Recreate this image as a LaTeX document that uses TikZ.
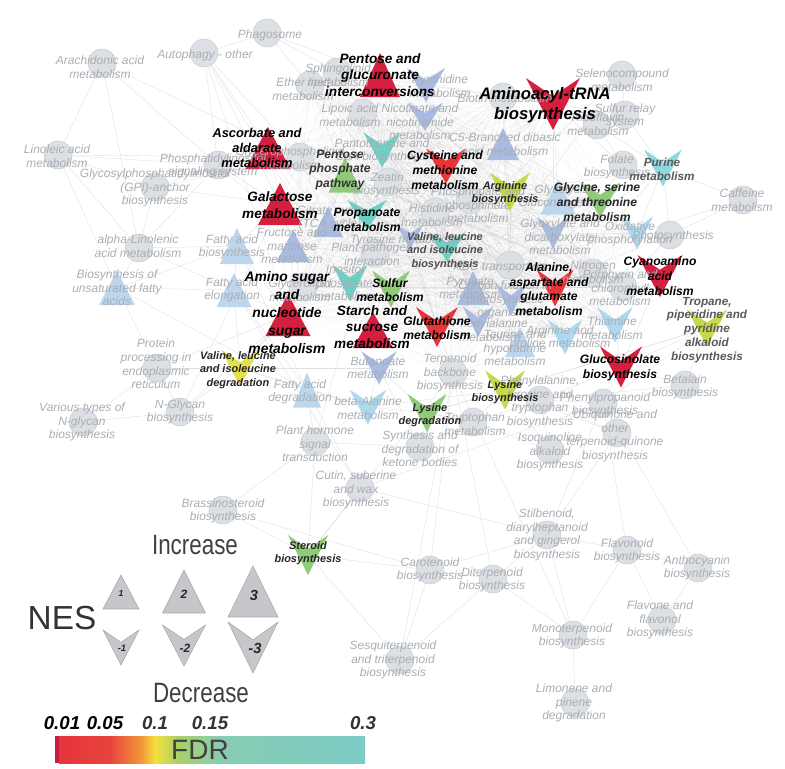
\documentclass[tikz,border=0pt]{standalone}
\usepackage{fontspec}
\setmainfont{Liberation Sans}
\newfontfamily\legfont[FakeStretch=0.8]{Liberation Sans}
\usepackage{tikz}

\definecolor{pwfill}{HTML}{DCDFE3}
\definecolor{pwline}{HTML}{C9CDD1}
\definecolor{txtgray}{HTML}{AAAEB3}
\definecolor{redA}{HTML}{D41F3F}
\definecolor{redB}{HTML}{E8353A}
\definecolor{grn}{HTML}{8FCB78}
\definecolor{ygrn}{HTML}{C5D94A}
\definecolor{yel}{HTML}{E3E04C}
\definecolor{teal}{HTML}{6ECFC5}
\definecolor{cyanp}{HTML}{8FD8E0}
\definecolor{blueA}{HTML}{A9BBE0}
\definecolor{blueB}{HTML}{AED8F0}
\definecolor{blueL}{HTML}{BCD6EE}
\definecolor{legg}{HTML}{C5C7CA}
\definecolor{leggd}{HTML}{A5A7AA}
\definecolor{fdrA}{HTML}{C81D3B}
\definecolor{fdrB}{HTML}{E5343E}
\definecolor{fdrC}{HTML}{E8443C}
\definecolor{fdrD}{HTML}{F39A3A}
\definecolor{fdrE}{HTML}{F4E03C}
\definecolor{fdrF}{HTML}{A9CF68}
\definecolor{fdrG}{HTML}{88CDB2}
\definecolor{fdrH}{HTML}{7CCBC6}

\pgfdeclarelayer{bg}
\pgfsetlayers{bg,main}

% up triangle: name, width, height, style
\newcommand\uptri[4]{\fill[#4] (#1) ++(0,-#3/2) -- ++(#2/2,#3) -- ++(-#2,0) -- cycle;}
% down arrowhead: name, width, height, style
\newcommand\downv[4]{\fill[#4] (#1) ++(-#2/2,-#3/2) -- ++(#2/2,0.35*#3) -- ++(#2/2,-0.35*#3) -- ++(-#2/2,#3) -- cycle;}

\def\corelist{pentgl,sphingo,ether,pyrim,nicot,lipoic,biotin,aminoac,c5br,pantoth,pentph,zeatin,cystein,argbio,glyser,glycol,glyox,propan,tca,fructo,galact,ascorb,glyphl,tyros,plpath,valbio,histid,phosph,abc,alan,nitro,porph,inosit,sulfur,starch,glutat,pyruv,carbfix,phealn,taur,argpro,thiam,aminos,glycl,oxphos,terpb}

\begin{document}
\begin{tikzpicture}[x=0.75pt,y=0.75pt,yscale=-1,xscale=1,
  pwnode/.style={fill=pwfill, draw=pwline, line width=0.4pt},
  medge/.style={draw=black!55, line width=0.2pt, opacity=0.1},
  pedge/.style={draw=black!12, line width=0.3pt},
  gtxt/.style={font=\itshape\fontsize{9}{10.2}\selectfont, text=txtgray, align=center, inner sep=0pt},
  dtxt/.style={font=\bfseries\itshape\fontsize{8.8}{10.4}\selectfont, text=black!65, align=center, inner sep=0pt},
  sigXL/.style={font=\bfseries\itshape\fontsize{12.5}{15}\selectfont, text=black, align=center, inner sep=0pt},
  sigL/.style={font=\bfseries\itshape\fontsize{10.2}{12.5}\selectfont, text=black, align=center, inner sep=0pt},
  sigM/.style={font=\bfseries\itshape\fontsize{9.1}{11}\selectfont, text=black, align=center, inner sep=0pt},
  sigS/.style={font=\bfseries\itshape\fontsize{8.2}{10}\selectfont, text=black!85, align=center, inner sep=0pt},
  legtri/.style={fill=legg, draw=leggd, line width=0.4pt},
  legnum/.style={font=\bfseries\itshape, text=black!85, inner sep=0pt},
  legword/.style={font=\legfont\fontsize{21}{24}\selectfont, text=black!75, inner sep=0pt},
  fdrnum/.style={font=\bfseries\itshape\fontsize{14}{16}\selectfont, text=black!80, inner sep=0pt}]
\useasboundingbox (0,0) rectangle (785,768);

%Shape: Circles [gray pathways]
\foreach \n/\x/\y in {phago/267/33, autoph/204/53, arach/102/63, linol/58/155, pisig/218/165,
  gpi/155/187, alin/139/248, protp/157/368, vnglyc/83/422, nglyc/180/412, brass/223/510,
  sphingo/337/72, ether/310/85, biotin/503/97, lipoic/363/113, selen/622/75, sulrel/625/115,
  ribo/597/125, glyphl/300/157, zeatin/388/182, histid/435/212, phosph/470/200, plpath/375/253,
  abc/510/265, glycl/303/287, nitro/593/273, porph/623/287, terpb/453/373, trypm/473/422,
  ketone/420/447, planth/315/442, cutin/360/488, phetyr/540/400, isoq/550/450, phenylp/603/403,
  ubiq/617/433, betal/685/385, folate/623/165, caff/743/200, photos/670/235, stilb/547/535,
  flavo/627/550, antho/698/568, carot/430/570, diterp/493/579, flavon/662/620, monot/573/635,
  limon/575/703, sesq/400/660}
  {\coordinate (\n) at (\x,\y);
   \draw[pwnode] (\n) circle (14);}

%Shape: Triangles [increase]
\coordinate (ascorb) at (268,148); \uptri{ascorb}{45}{42}{redA}
\coordinate (galact) at (280,204); \uptri{galact}{44}{42}{redA}
\coordinate (aminos) at (288,315); \uptri{aminos}{45}{42}{redA}
\coordinate (starch) at (373,330); \uptri{starch}{40}{36}{redA}
\coordinate (pentgl) at (380,75); \uptri{pentgl}{40}{44}{redA}
\coordinate (pentph) at (345,175); \uptri{pentph}{33}{35}{grn}
\coordinate (fructo) at (293,246); \uptri{fructo}{33}{32}{blueA}
\coordinate (tca) at (328,222); \uptri{tca}{30}{30}{blueA}
\coordinate (fabio) at (237,246); \uptri{fabio}{34}{36}{blueL}
\coordinate (fael) at (234,290); \uptri{fael}{35}{34}{blueL}
\coordinate (unsat) at (117,288); \uptri{unsat}{36}{34}{blueL}
\coordinate (fadeg) at (307,390); \uptri{fadeg}{28}{35}{blueL}
\coordinate (c5br) at (503,144); \uptri{c5br}{32}{32}{blueA}
\coordinate (glycol) at (558,197); \uptri{glycol}{35}{35}{blueL}
\coordinate (pyruv) at (473,288); \uptri{pyruv}{32}{34}{blueA}
\coordinate (taur) at (520,342); \uptri{taur}{30}{30}{blueL}

%Shape: Arrowheads [decrease]
\coordinate (aminoac) at (553,104); \downv{aminoac}{54}{52}{redA}
\coordinate (cystein) at (446,166); \downv{cystein}{40}{35}{redB}
\coordinate (glutat) at (437,327); \downv{glutat}{42}{40}{redB}
\coordinate (alan) at (555,288); \downv{alan}{37}{37}{redB}
\coordinate (cyano) at (660,276); \downv{cyano}{45}{42}{redA}
\coordinate (glucos) at (621,367); \downv{glucos}{42}{41}{redA}
\coordinate (sulfur) at (391,289); \downv{sulfur}{38}{37}{grn}
\coordinate (lysdeg) at (427,413); \downv{lysdeg}{39}{38}{grn}
\coordinate (lysbio) at (505,390); \downv{lysbio}{40}{39}{ygrn}
\coordinate (argbio) at (510,192); \downv{argbio}{40}{39}{ygrn}
\coordinate (glyser) at (600,200); \downv{glyser}{40}{35}{grn}
\coordinate (tropane) at (707,328); \downv{tropane}{40}{37}{ygrn}
\coordinate (valdeg) at (240,368); \downv{valdeg}{38}{37}{yel}
\coordinate (steroid) at (308,555); \downv{steroid}{40}{40}{grn}
\coordinate (pantoth) at (382,150); \downv{pantoth}{37}{35}{teal}
\coordinate (propan) at (367,215); \downv{propan}{39}{30}{teal}
\coordinate (valbio) at (447,247); \downv{valbio}{37}{30}{teal}
\coordinate (inosit) at (350,283); \downv{inosit}{35}{37}{teal}
\coordinate (purine) at (663,168); \downv{purine}{38}{37}{cyanp}
\coordinate (pyrim) at (426,85); \downv{pyrim}{38}{34}{blueA}
\coordinate (nicot) at (425,117); \downv{nicot}{35}{28}{blueA}
\coordinate (tyros) at (410,237); \downv{tyros}{27}{25}{blueA}
\coordinate (glyox) at (553,233); \downv{glyox}{32}{32}{blueA}
\coordinate (carbfix) at (511,300); \downv{carbfix}{30}{32}{blueA}
\coordinate (phealn) at (478,322); \downv{phealn}{30}{31}{blueA}
\coordinate (butan) at (379,368); \downv{butan}{35}{33}{blueA}
\coordinate (balan) at (368,407); \downv{balan}{37}{35}{blueB}
\coordinate (thiam) at (615,325); \downv{thiam}{35}{35}{blueB}
\coordinate (argpro) at (565,337); \downv{argpro}{35}{35}{blueB}
\coordinate (oxphos) at (637,233); \downv{oxphos}{32}{33}{blueB}

%Straight Lines [network edges]
\begin{pgfonlayer}{bg}
\foreach \a [count=\i] in \corelist {
  \foreach \b [count=\j] in \corelist {
    \ifnum\j>\i \draw[medge] (\a) -- (\b); \fi
  }
}
\foreach \a/\b in {arach/linol, arach/pisig, arach/alin, arach/glyphl, linol/alin, linol/gpi,
  linol/unsat, linol/pisig, linol/glyphl, alin/unsat, alin/gpi, alin/fabio, alin/fael, alin/pisig,
  gpi/pisig, gpi/glyphl, gpi/galact, autoph/phago, autoph/pisig, autoph/ascorb, autoph/glyphl,
  autoph/galact, autoph/starch, autoph/aminos, phago/sphingo, phago/ether, phago/pentgl,
  pisig/inosit, pisig/glyphl, pisig/galact, pisig/ascorb, unsat/fael, unsat/fabio, unsat/protp,
  unsat/fadeg, fabio/fael, fabio/fadeg, fabio/aminos, fabio/galact, fael/fadeg, fael/aminos,
  fael/valdeg, protp/nglyc, protp/vnglyc, protp/aminos, protp/valdeg, vnglyc/nglyc, nglyc/aminos,
  nglyc/valdeg, nglyc/galact, valdeg/aminos, valdeg/fadeg, valdeg/propan, valdeg/butan,
  valdeg/balan, brass/steroid, brass/planth, brass/carot, steroid/sesq, steroid/terpb,
  steroid/carot, steroid/cutin, steroid/planth, carot/diterp, carot/terpb, carot/sesq, carot/stilb,
  diterp/terpb, diterp/monot, diterp/stilb, monot/limon, monot/terpb, monot/stilb, monot/flavo,
  sesq/terpb, sesq/diterp, stilb/flavo, stilb/phenylp, stilb/cutin, stilb/ubiq, flavo/antho,
  flavo/flavon, flavo/phenylp, antho/flavon, antho/phenylp, caff/purine, caff/photos, caff/oxphos,
  selen/sulrel, selen/aminoac, selen/cystein, selen/sulfur, selen/glutat, sulrel/aminoac,
  sulrel/cystein, sulrel/ribo, sulrel/purine, ribo/folate, ribo/purine, folate/purine,
  folate/glyser, folate/aminoac, photos/oxphos, photos/purine, photos/porph, photos/carbfix,
  purine/glyser, purine/oxphos, purine/argbio, purine/alan, purine/glutat, tropane/cyano,
  tropane/glucos, tropane/betal, tropane/lysbio, tropane/lysdeg, tropane/phenylp, betal/phenylp,
  betal/phetyr, betal/glucos, cyano/glucos, cyano/porph, cyano/thiam, cyano/nitro, cyano/alan,
  glucos/thiam, glucos/argpro, glucos/phetyr, glucos/phenylp, ubiq/phenylp, ubiq/phetyr,
  ubiq/terpb, isoq/phetyr, isoq/trypm, isoq/lysbio, phetyr/lysbio, phetyr/trypm, phetyr/phenylp,
  trypm/lysbio, trypm/lysdeg, ketone/butan, ketone/terpb, ketone/lysdeg, ketone/planth,
  planth/zeatin, planth/balan, planth/fadeg, cutin/fadeg, cutin/fael, cutin/phenylp,
  lysdeg/butan, lysdeg/balan, lysdeg/lysbio, lysdeg/trypm, balan/butan, balan/fadeg, balan/lysbio}
  {\draw[pedge] (\a) -- (\b);}
\end{pgfonlayer}

% Text Node [gray pathways]
\node[gtxt] (phago-t) at (270,35) {Phagosome};
\node[gtxt] (autoph-t) at (205,55) {Autophagy - other};
\node[gtxt] (arach-t) at (100,67) {Arachidonic acid\\metabolism};
\node[gtxt] (linol-t) at (57,156) {Linoleic acid\\metabolism};
\node[gtxt] (pisig-t) at (213,166) {Phosphatidylinositol\\signaling system};
\node[gtxt] (gpi-t) at (155,188) {Glycosylphosphatidylinositol\\(GPI)-anchor\\biosynthesis};
\node[gtxt] (alin-t) at (138,246) {alpha-Linolenic\\acid metabolism};
\node[gtxt] (protp-t) at (156,364) {Protein\\processing in\\endoplasmic\\reticulum};
\node[gtxt] (vnglyc-t) at (82,422) {Various types of\\N-glycan\\biosynthesis};
\node[gtxt] (nglyc-t) at (180,412) {N-Glycan\\biosynthesis};
\node[gtxt] (brass-t) at (223,511) {Brassinosteroid\\biosynthesis};
\node[gtxt] (sphingo-t) at (338,75) {Sphingolipid\\metabolism};
\node[gtxt] (ether-t) at (303,89) {Ether lipid\\metabolism};
\node[gtxt] (biotin-t) at (505,98) {Biotin metabolism};
\node[gtxt] (lipoic-t) at (350,115) {Lipoic acid\\metabolism};
\node[gtxt] (selen-t) at (622,80) {Selenocompound\\metabolism};
\node[gtxt] (sulrel-t) at (625,116) {Sulfur relay\\system};
\node[gtxt] (ribo-t) at (598,124) {Riboflavin\\metabolism};
\node[gtxt] (glyphl-t) at (290,158) {Glycerophospholipid\\metabolism};
\node[gtxt] (zeatin-t) at (387,185) {Zeatin\\biosynthesis};
\node[gtxt] (histid-t) at (432,215) {Histidine\\metabolism};
\node[gtxt] (phosph-t) at (478,205) {Phosphonate and\\phosphinate\\metabolism};
\node[gtxt] (plpath-t) at (372,254) {Plant-pathogen\\interaction};
\node[gtxt] (abc-t) at (500,268) {ABC transporters};
\node[gtxt] (glycl-t) at (300,290) {Glycerolipid\\metabolism};
\node[gtxt] (nitro-t) at (593,272) {Nitrogen\\metabolism};
\node[gtxt] (porph-t) at (620,288) {Porphyrin and\\chlorophyll\\metabolism};
\node[gtxt] (terpb-t) at (450,373) {Terpenoid\\backbone\\biosynthesis};
\node[gtxt] (trypm-t) at (475,424) {Tryptophan\\metabolism};
\node[gtxt] (ketone-t) at (420,449) {Synthesis and\\degradation of\\ketone bodies};
\node[gtxt] (planth-t) at (315,444) {Plant hormone\\signal\\transduction};
\node[gtxt] (cutin-t) at (356,490) {Cutin, suberine\\and wax\\biosynthesis};
\node[gtxt] (phetyr-t) at (540,402) {Phenylalanine,\\tyrosine and\\tryptophan\\biosynthesis};
\node[gtxt] (isoq-t) at (550,452) {Isoquinoline\\alkaloid\\biosynthesis};
\node[gtxt] (phenylp-t) at (605,405) {Phenylpropanoid\\biosynthesis};
\node[gtxt] (ubiq-t) at (615,436) {Ubiquinone and\\other\\terpenoid-quinone\\biosynthesis};
\node[gtxt] (betal-t) at (685,387) {Betalain\\biosynthesis};
\node[gtxt] (folate-t) at (617,167) {Folate\\biosynthesis};
\node[gtxt] (caff-t) at (742,200) {Caffeine\\metabolism};
\node[gtxt] (photos-t) at (673,236) {Photosynthesis};
\node[gtxt] (stilb-t) at (547,535) {Stilbenoid,\\diarylheptanoid\\and gingerol\\biosynthesis};
\node[gtxt] (flavo-t) at (627,551) {Flavonoid\\biosynthesis};
\node[gtxt] (antho-t) at (697,568) {Anthocyanin\\biosynthesis};
\node[gtxt] (carot-t) at (430,570) {Carotenoid\\biosynthesis};
\node[gtxt] (diterp-t) at (492,580) {Diterpenoid\\biosynthesis};
\node[gtxt] (flavon-t) at (660,620) {Flavone and\\flavonol\\biosynthesis};
\node[gtxt] (monot-t) at (572,636) {Monoterpenoid\\biosynthesis};
\node[gtxt] (limon-t) at (574,703) {Limonene and\\pinene\\degradation};
\node[gtxt] (sesq-t) at (393,660) {Sesquiterpenoid\\and triterpenoid\\biosynthesis};
\node[gtxt] (fructo-t) at (292,246) {Fructose and\\mannose\\metabolism};
\node[gtxt] (tca-t) at (330,218) {Citrate cycle\\(TCA cycle)};
\node[gtxt] (fabio-t) at (232,247) {Fatty acid\\biosynthesis};
\node[gtxt] (fael-t) at (232,290) {Fatty acid\\elongation};
\node[gtxt] (unsat-t) at (117,288) {Biosynthesis of\\unsaturated fatty\\acids};
\node[gtxt] (fadeg-t) at (300,392) {Fatty acid\\degradation};
\node[gtxt] (c5br-t) at (505,144) {C5-Branched dibasic\\acid metabolism};
\node[gtxt] (glycol-t) at (565,197) {Glycolysis /\\Gluconeogenesis};
\node[gtxt] (pyruv-t) at (470,288) {Pyruvate\\metabolism};
\node[gtxt] (taur-t) at (515,348) {Taurine and\\hypotaurine\\metabolism};
\node[gtxt] (pantoth-t) at (382,151) {Pantothenate and\\CoA biosynthesis};
\node[gtxt] (inosit-t) at (345,283) {Inositol\\phosphate\\metabolism};
\node[gtxt] (pyrim-t) at (440,86) {Pyrimidine\\metabolism};
\node[gtxt] (nicot-t) at (420,122) {Nicotinate and\\nicotinamide\\metabolism};
\node[gtxt] (tyros-t) at (405,240) {Tyrosine metabolism};
\node[gtxt] (glyox-t) at (560,237) {Glyoxylate and\\dicarboxylate\\metabolism};
\node[gtxt] (carbfix-t) at (505,300) {Carbon fixation in\\photosynthetic\\organisms};
\node[gtxt] (phealn-t) at (490,330) {Phenylalanine\\metabolism};
\node[gtxt] (butan-t) at (378,368) {Butanoate\\metabolism};
\node[gtxt] (balan-t) at (368,408) {beta-Alanine\\metabolism};
\node[gtxt] (thiam-t) at (612,328) {Thiamine\\metabolism};
\node[gtxt] (argpro-t) at (560,338) {Arginine and\\proline metabolism};
\node[gtxt] (oxphos-t) at (630,234) {Oxidative\\phosphorylation};

% Text Node [enriched pathways]
\node[dtxt] (tropane-t) at (707,330) {Tropane,\\piperidine and\\pyridine\\alkaloid\\biosynthesis};
\node[dtxt] (purine-t) at (662,169) {Purine\\metabolism};
\node[sigS] (lysdeg-t) at (430,415) {Lysine\\degradation};
\node[sigS] (lysbio-t) at (505,392) {Lysine\\biosynthesis};
\node[sigS] (argbio-t) at (505,193) {Arginine\\biosynthesis};
\node[sigS] (valdeg-t) at (238,370) {Valine, leucine\\and isoleucine\\degradation};
\node[sigS] (steroid-t) at (308,553) {Steroid\\biosynthesis};
\node[sigS, text=black!70] (valbio-t) at (445,251) {Valine, leucine\\and isoleucine\\biosynthesis};
\node[sigM] (cystein-t) at (445,170) {Cysteine and\\methionine\\metabolism};
\node[sigM] (glutat-t) at (437,328) {Glutathione\\metabolism};
\node[sigM] (alan-t) at (549,289) {Alanine,\\aspartate and\\glutamate\\metabolism};
\node[sigM] (cyano-t) at (660,276) {Cyanoamino\\acid\\metabolism};
\node[sigM] (glucos-t) at (620,368) {Glucosinolate\\biosynthesis};
\node[sigM] (sulfur-t) at (390,290) {Sulfur\\metabolism};
\node[sigM] (propan-t) at (367,220) {Propanoate\\metabolism};
\node[sigM, text=black!85] (glyser-t) at (597,202) {Glycine, serine\\and threonine\\metabolism};
\node[sigM, text=black!80] (pentph-t) at (340,170) {Pentose\\phosphate\\pathway};
\node[sigL, font=\bfseries\itshape\fontsize{9.6}{11.2}\selectfont] (ascorb-t) at (257,148) {Ascorbate and\\aldarate\\metabolism};
\node[sigL] (galact-t) at (280,205) {Galactose\\metabolism};
\node[sigL, font=\bfseries\itshape\fontsize{10.4}{13.5}\selectfont] (aminos-t) at (287,313) {Amino sugar\\and\\nucleotide\\sugar\\metabolism};
\node[sigL] (starch-t) at (372,327) {Starch and\\sucrose\\metabolism};
\node[sigL] (pentgl-t) at (380,75) {Pentose and\\glucuronate\\interconversions};
\node[sigXL] (aminoac-t) at (545,105) {Aminoacyl-tRNA\\biosynthesis};

%Shape: Legend [NES]
\coordinate (leg1) at (121,592); \uptri{leg1}{36}{34}{legtri}
\coordinate (leg2) at (184,591.5); \uptri{leg2}{43}{43}{legtri}
\coordinate (leg3) at (253,591.5); \uptri{leg3}{50}{51}{legtri}
\coordinate (legm1) at (121,647.5); \downv{legm1}{36}{35}{legtri}
\coordinate (legm2) at (184,645.5); \downv{legm2}{43}{41}{legtri}
\coordinate (legm3) at (253,647.5); \downv{legm3}{50}{51}{legtri}
\node[legnum, font=\bfseries\itshape\fontsize{6.5}{7}\selectfont] (leg1-t) at (121,594) {1};
\node[legnum, font=\bfseries\itshape\fontsize{9}{10}\selectfont] (leg2-t) at (184,594) {2};
\node[legnum, font=\bfseries\itshape\fontsize{11}{12}\selectfont] (leg3-t) at (254,595) {3};
\node[legnum, font=\bfseries\itshape\fontsize{7}{8}\selectfont] (legm1-t) at (122,648) {-1};
\node[legnum, font=\bfseries\itshape\fontsize{9}{10}\selectfont] (legm2-t) at (185,648) {-2};
\node[legnum, font=\bfseries\itshape\fontsize{11}{12}\selectfont] (legm3-t) at (255,648) {-3};
\node[legword] (incr) at (195,545) {Increase};
\node[legword] (decr) at (201,693) {Decrease};
\node[font=\fontsize{25}{28}\selectfont, text=black!80, inner sep=0pt] (nes) at (62,618) {NES};

%Shape: Legend [FDR colour bar]
\fill[fdrA] (55,736) rectangle (59.5,763);
\shade[left color=fdrB, right color=fdrC] (59,736) rectangle (110.5,763);
\shade[left color=fdrC, right color=fdrD] (110,736) rectangle (142.5,763);
\shade[left color=fdrD, right color=fdrE] (142,736) rectangle (155.5,763);
\shade[left color=fdrE, right color=fdrF] (155,736) rectangle (178.5,763);
\shade[left color=fdrF, right color=fdrG] (178,736) rectangle (220.5,763);
\shade[left color=fdrG, right color=fdrH] (220,736) rectangle (365,763);
\node[font=\fontsize{21}{24}\selectfont, text=black!75, inner sep=0pt] (fdr) at (200,750) {FDR};
\node[fdrnum, text=black] (fdr01) at (62,723) {0.01};
\node[fdrnum, text=black] (fdr05) at (105,723) {0.05};
\node[fdrnum] (fdr10) at (155,723) {0.1};
\node[fdrnum] (fdr15) at (210,723) {0.15};
\node[fdrnum] (fdr30) at (363,723) {0.3};
\end{tikzpicture}
\end{document}
